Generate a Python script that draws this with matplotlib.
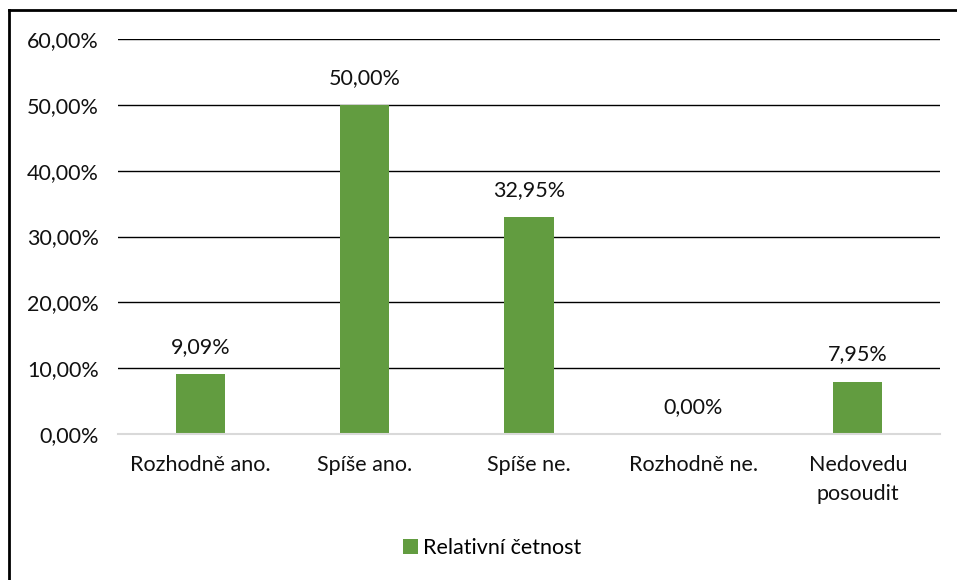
import numpy as np
import matplotlib.pyplot as plt
from matplotlib.ticker import FuncFormatter

categories = ['Rozhodně ano.', 'Spíše ano.', 'Spíše ne.', 'Rozhodně ne.', 'Nedovedu\nposoudit']
values = [9.09, 50.00, 32.95, 0.00, 7.95]
series_name = 'Relativní četnost'

plt.rcParams['font.family'] = ['Lato', 'DejaVu Sans']
plt.rcParams['font.size'] = 15.5

W, H = 957, 580
fig = plt.figure(figsize=(W / 100, H / 100), dpi=100)
ax = fig.add_axes([118 / W, 1 - 434 / H, (940 - 118) / W, (434 - 39) / H])

green = '#629c40'
x = np.arange(len(categories))
bars = ax.bar(x, values, width=0.3, color=green, zorder=3, label=series_name)

for xi, v in zip(x, values):
    ax.text(xi, v + 2.6, f'{v:.2f}%'.replace('.', ','), ha='center', va='bottom',
            color='#111111')

ax.set_xlim(-0.5, len(categories) - 0.5)
ax.set_ylim(0, 60)
ax.set_yticks(np.arange(0, 61, 10))
ax.yaxis.set_major_formatter(FuncFormatter(lambda v, p: f'{v:.2f}%'.replace('.', ',')))
ax.set_xticks(x)
ax.set_xticklabels(categories, linespacing=1.55)
ax.tick_params(length=0, colors='#111111')
ax.tick_params(axis='y', pad=14)
ax.tick_params(axis='x', pad=15)

ax.grid(axis='y', color='black', linewidth=1.0, zorder=0)
for s in ['top', 'right', 'left']:
    ax.spines[s].set_visible(False)
ax.spines['bottom'].set_color('#d9d9d9')
ax.spines['bottom'].set_linewidth(1.5)
ax.spines['bottom'].set_zorder(4)

leg = fig.legend(handles=[bars], labels=[series_name], loc='center',
                 bbox_to_anchor=(492 / W, 1 - 548 / H), frameon=False,
                 handlelength=0.7, handleheight=0.7, handletextpad=0.25)

# outer frame (cropped at right and bottom)
fig.add_artist(plt.Line2D([8.5 / W, 8.5 / W], [0, 1 - 10 / H], color='black', lw=2,
                          transform=fig.transFigure))
fig.add_artist(plt.Line2D([8.5 / W, 1], [1 - 10 / H, 1 - 10 / H], color='black', lw=2,
                          transform=fig.transFigure))

fig.savefig('out.png', dpi=100)
